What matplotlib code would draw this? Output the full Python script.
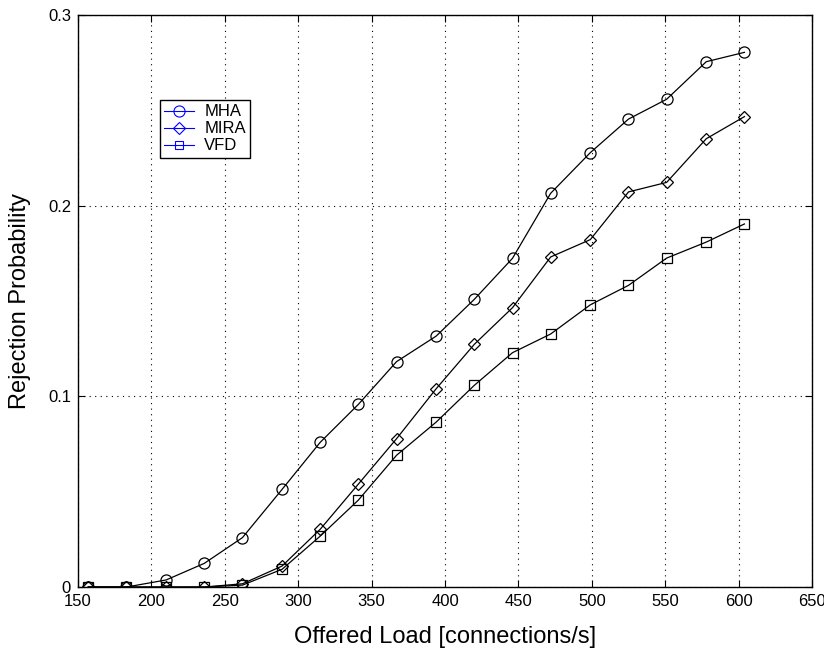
import matplotlib.pyplot as plt

plt.rcParams["font.family"] = ["Liberation Sans", "DejaVu Sans"]

# offered load [connections/s]
load = [157, 183, 210, 236, 262, 289, 315, 341, 367, 394, 420, 446, 472, 499, 525, 551, 578, 604]

# rejection probability per algorithm
mha = [0.0, 0.0, 0.0037, 0.0124, 0.0259, 0.0512, 0.0759, 0.0958, 0.1182, 0.1316,
       0.1509, 0.1724, 0.2065, 0.2278, 0.2454, 0.2558, 0.2755, 0.2804]
mira = [0.0, 0.0, 0.0, 0.0, 0.0017, 0.011, 0.0303, 0.054, 0.0778, 0.104,
        0.1273, 0.1465, 0.1731, 0.1822, 0.2072, 0.2122, 0.2351, 0.2467]
vfd = [0.0, 0.0, 0.0, 0.0, 0.001, 0.0093, 0.0267, 0.0456, 0.0691, 0.0865,
       0.1058, 0.1229, 0.1327, 0.148, 0.1582, 0.1725, 0.1809, 0.1904]

fig = plt.figure(figsize=(8.24, 6.48), dpi=100)
ax = fig.add_axes([0.0947, 0.0941, 0.8907, 0.8828])

mk = dict(color="black", lw=0.9, ms=8, mfc="none", mew=0.9)
ax.plot(load, mha, marker="o", **mk)
ax.plot(load, mira, marker="D", **dict(mk, ms=6.5))
ax.plot(load, vfd, marker="s", **dict(mk, ms=6.5))

ax.set_xlim(150, 650)
ax.set_ylim(0, 0.3)
ax.set_xticks(range(150, 651, 50))
ax.set_yticks([0, 0.1, 0.2, 0.3])
ax.set_yticklabels(["0", "0.1", "0.2", "0.3"])
ax.grid(True, color="black", linestyle=(0, (1, 4)), linewidth=0.8)
ax.tick_params(direction="in", top=True, right=True, labelsize=12, length=5, pad=5)
for s in ax.spines.values():
    s.set_linewidth(1.0)

ax.set_xlabel("Offered Load [connections/s]", fontsize=17, labelpad=12)
ax.set_ylabel("Rejection Probability", fontsize=17, labelpad=12)

# legend handles drawn in blue, like the original
lk = dict(color="blue", lw=0.8, mfc="none", mew=0.8)
h1, = ax.plot([], [], marker="o", ms=8, **lk)
h2, = ax.plot([], [], marker="D", ms=6.5, **lk)
h3, = ax.plot([], [], marker="s", ms=6, **lk)
leg = ax.legend([h1, h2, h3], ["MHA", "MIRA", "VFD"], loc="upper left",
                bbox_to_anchor=(0.112, 0.851), fontsize=12, fancybox=False,
                framealpha=1, edgecolor="black", handlelength=1.8,
                borderpad=0.25, labelspacing=0.12, handletextpad=0.6,
                borderaxespad=0)
leg.get_frame().set_linewidth(1.0)

fig.savefig("out.png", dpi=100)
